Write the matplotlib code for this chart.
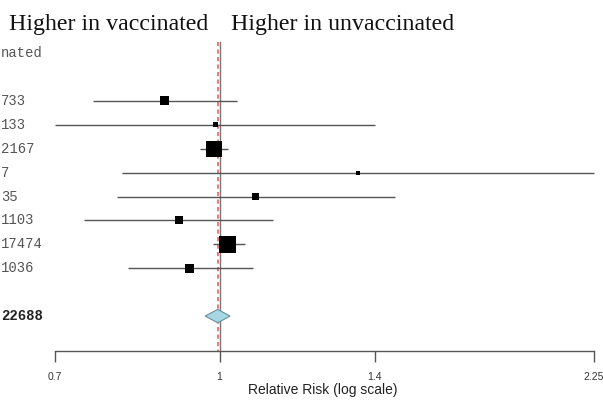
import numpy as np
import matplotlib
matplotlib.use("Agg")
import matplotlib.pyplot as plt
from matplotlib.patches import Polygon

# ---- data ----
labels = ["733", "133", "2167", "7", "35", "1103", "17474", "1036"]
rr = [0.888, 0.992, 0.988, 1.349, 1.082, 0.916, 1.018, 0.936]
lo = [0.760, 0.700, 0.958, 0.809, 0.801, 0.745, 0.986, 0.820]
hi = [1.038, 1.400, 1.018, 2.25, 1.462, 1.123, 1.057, 1.075]
weights = [9, 5, 16, 4, 7, 8, 17, 9]  # square side (px) ~ study weight
header_label = "nated"
summary_label = "22688"
summary_est = 0.996
summary_lo = 0.969
summary_hi = 1.023
xticks = [0.7, 1, 1.4, 2.25]
xtick_labels = ["0.7", "1", "1.4", "2.25"]
left_title = "Higher in vaccinated"
right_title = "Higher in unvaccinated"
xlabel = "Relative Risk (log scale)"

W, H = 603, 400
fig = plt.figure(figsize=(W / 100, H / 100), dpi=100)
axis_pix = 351
ax = fig.add_axes([0, (H - axis_pix) / H, 1, axis_pix / H])
ax.set_xscale("log")
ax.set_xlim(0.6214, 2.295)
row_step = 23.9
first_row_pix = 101
ytop = 1 + (0 - first_row_pix) / row_step
ybot = 1 + (axis_pix - first_row_pix) / row_step
ax.set_ylim(ybot, ytop)

for s in ["top", "left", "right"]:
    ax.spines[s].set_visible(False)
ax.spines["bottom"].set_bounds(xticks[0], xticks[-1])
ax.spines["bottom"].set_color("#555555")
ax.spines["bottom"].set_linewidth(1.0)
ax.set_yticks([])
ax.set_xticks(xticks)
ax.set_xticklabels(xtick_labels)
ax.xaxis.set_minor_locator(matplotlib.ticker.NullLocator())
ax.tick_params(axis="x", direction="out", length=8, width=1.0, color="#555555",
               pad=7, labelsize=7.5, labelcolor="#333333")
for t in ax.get_xticklabels():
    t.set_fontfamily("Liberation Sans")

# reference lines
line_top = 1 + (42 - first_row_pix) / row_step
ax.plot([1, 1], [line_top, ybot], color="#777777", lw=1.0, zorder=1)
ax.plot([summary_est, summary_est], [line_top, ybot], color="#e06666", lw=1.2,
        ls=(0, (2.5, 2)), zorder=2)

rows = np.arange(1, len(labels) + 1)
ax.hlines(rows, lo, hi, color="#555555", lw=1.0, zorder=3)
ax.scatter(rr, rows, marker="s", s=[(w * 0.72) ** 2 for w in weights],
           color="black", zorder=4, linewidths=0)

# summary diamond
srow = len(labels) + 2
dh = 0.28
diamond = Polygon([[summary_lo, srow], [summary_est, srow - dh],
                   [summary_hi, srow], [summary_est, srow + dh]],
                  closed=True, facecolor="#a8d8e6", edgecolor="#6a8f99", lw=0.8, zorder=5)
ax.add_patch(diamond)

# left text column
def ypix(row):
    return first_row_pix + (row - 1) * row_step

mono = "Liberation Mono"
fig.text(1 / W, 1 - ypix(-1) / H, header_label, ha="left", va="center",
         family=mono, fontsize=10, color="#555555")
for r, lab in zip(rows, labels):
    fig.text(1 / W, 1 - ypix(r) / H, lab, ha="left", va="center",
             family=mono, fontsize=10, color="#555555")
fig.text(1 / W, 1 - ypix(srow) / H, summary_label, ha="left", va="center",
         family=mono, fontsize=10, color="#222222", fontweight="bold")

# titles
fig.text(208 / W, 1 - 30 / H, left_title, ha="right", va="baseline",
         family="Liberation Serif", fontsize=17.2, color="#111111")
fig.text(231 / W, 1 - 30 / H, right_title, ha="left", va="baseline",
         family="Liberation Serif", fontsize=17.2, color="#111111")

fig.text(323 / W, 1 - 390 / H, xlabel, ha="center", va="center",
         family="Liberation Sans", fontsize=10, color="#222222")

fig.savefig("out.png", dpi=100)
